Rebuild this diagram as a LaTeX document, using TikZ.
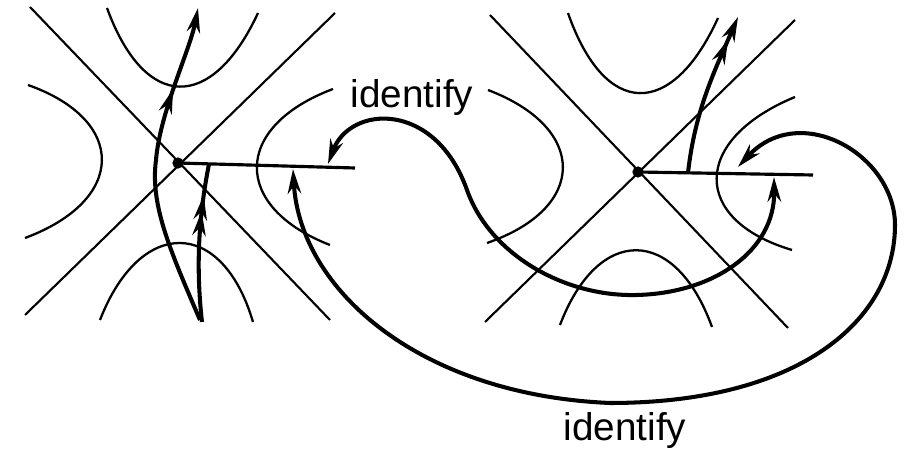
\documentclass[tikz,border=0pt]{standalone}
\usepackage{fontspec}
\setmainfont{Liberation Sans}
\usetikzlibrary{arrows.meta,decorations.markings}
\tikzset{
  saddletip/.tip={Stealth[length=7pt,width=3.8pt]},
  asym/.style={line width=0.6pt},
  level/.style={line width=0.65pt},
  cutline/.style={line width=0.9pt},
  flow/.style={line width=1.15pt},
  midtip/.style={postaction={decorate},decoration={markings,
      mark=at position #1 with {\arrow{saddletip}}}},
  midtwo/.style 2 args={postaction={decorate},decoration={markings,
      mark=at position #1 with {\arrow{saddletip}},
      mark=at position #2 with {\arrow{saddletip}}}},
}
\begin{document}
\begin{tikzpicture}[x=0.01cm,y=-0.01cm,font=\fontsize{11}{13}\selectfont]
  \useasboundingbox (0,0) rectangle (911,452);
  % saddle points
  \coordinate (sL) at (178,163);
  \coordinate (sR) at (638,172);
  \coordinate (cutL) at (355,168);
  \coordinate (cutR) at (813,175);
  % left saddle: asymptotes and level curves
  \draw[asym] (30,7) -- (330,320);
  \draw[asym] (335,13) -- (25,315);
  \draw[level] (107,8) .. controls (145,112) and (212,112) .. (258,13);
  \draw[level] (28,85) .. controls (127,120) and (127,200) .. (25,238);
  \draw[level] (333,89) .. controls (232,127) and (232,207) .. (330,245);
  \draw[level] (100,320) .. controls (140,217) and (222,217) .. (253,322);
  % right saddle: asymptotes and level curves
  \draw[asym] (490,15) -- (788,328);
  \draw[asym] (795,20) -- (485,322);
  \draw[level] (568,13) .. controls (605,119) and (672,119) .. (718,18);
  \draw[level] (488,90) .. controls (588,128) and (588,208) .. (487,243);
  \draw[level] (795,97) .. controls (691,140) and (691,220) .. (792,250);
  \draw[level] (560,325) .. controls (598,225) and (675,225) .. (712,327);
  % branch cuts
  \draw[cutline] (sL) -- (cutL);
  \draw[cutline] (sR) -- (cutR);
  \fill (sL) circle (1.6pt);
  \fill (sR) circle (1.6pt);
  % trajectories
  \draw[flow,-{saddletip},midtip=0.74] (200,320) .. controls (170,250) and (150,205) .. (156,160)
    .. controls (160,112) and (190,50) .. (198,8);
  \draw[flow,midtwo={0.7}{0.8}] (202,322) .. controls (195,260) and (200,210) .. (209,164);
  \draw[flow,-{saddletip[]saddletip[]}] (688,173) .. controls (695,110) and (715,70) .. (738,17);
  % identifications
  \draw[flow,{saddletip}-{saddletip}] (328,164) .. controls (350,105) and (435,100) .. (467,190)
    .. controls (490,255) and (565,297) .. (637,295)
    .. controls (715,293) and (775,250) .. (774,177);
  \draw[flow,{saddletip}-{saddletip}] (293,169) .. controls (300,290) and (420,395) .. (610,403)
    .. controls (800,403) and (895,320) .. (895,225)
    .. controls (895,155) and (800,100) .. (738,167);
  \node[anchor=base] (topid) at (412,108) {identify};
  \node[anchor=base] (botid) at (625,441) {identify};
\end{tikzpicture}
\end{document}
